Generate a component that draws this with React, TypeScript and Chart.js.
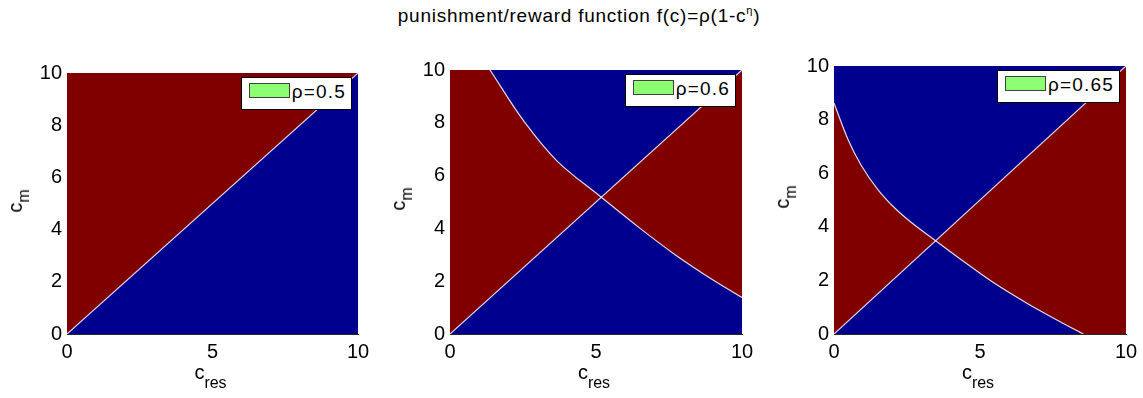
import React, { useEffect, useRef } from 'react';
import { Chart, registerables } from 'chart.js';

Chart.register(...registerables);

// ---------- data ----------
const TITLE_MAIN = 'punishment/reward function f(c)=ρ(1-c';
const TITLE_SUP = 'η';
const TITLE_END = ')';
const X_TITLE = 'c';
const X_TITLE_SUB = 'res';
const Y_TITLE = 'c';
const Y_TITLE_SUB = 'm';
const X_TICKS = [0, 5, 10];
const Y_TICKS = [0, 2, 4, 6, 8, 10];
const AXIS_MIN = 0;
const AXIS_MAX = 10;
const LEGEND_LABELS = ['ρ=0.5', 'ρ=0.6', 'ρ=0.65'];

// boundary c_m = c_res
const DIAG_X = [0, 10];
const DIAG_Y = [0, 10];

// second boundary curve (none inside the square for ρ=0.5)
const CURVE1_X: number[] = [];
const CURVE1_Y: number[] = [];
const CURVE2_X = [1.37, 2.53, 3.67, 5.18, 6.51, 7.65, 8.79, 10];
const CURVE2_Y = [10, 8.06, 6.55, 5.18, 4.0, 3.05, 2.2, 1.38];
const CURVE3_X = [0, 0.48, 0.94, 1.51, 2.08, 2.65, 3.48, 4.37, 5.51, 6.65, 7.79, 8.54];
const CURVE3_Y = [8.62, 7.26, 6.28, 5.38, 4.7, 4.16, 3.48, 2.76, 1.88, 1.12, 0.43, 0];

const CURVES_X = [CURVE1_X, CURVE2_X, CURVE3_X];
const CURVES_Y = [CURVE1_Y, CURVE2_Y, CURVE3_Y];

// ---------- style / layout ----------
const RED = '#800000';
const BLUE = '#00008f';
const EDGE = 'rgba(255,255,255,0.85)';
const SWATCH = '#8cff73';
const FONT = '"Liberation Sans", Arial, Helvetica, sans-serif';
const TENSION = 0.35;

const GEOM = [
  { left: 67, top: 71, right: 358, bottom: 334 },
  { left: 450, top: 68, right: 742, bottom: 334 },
  { left: 834, top: 64, right: 1126, bottom: 334 },
];
const PAD_L = 60;
const PAD_T = 15;
const PAD_R = 20;
const PAD_B = 45;

function pts(xs: number[], ys: number[]) {
  return xs.map((x, i) => ({ x, y: ys[i] }));
}

function Panel({ idx }: { idx: number }) {
  const ref = useRef<HTMLCanvasElement>(null);
  const g = GEOM[idx];
  const w = g.right - g.left + PAD_L + PAD_R;
  const h = g.bottom - g.top + PAD_T + PAD_B;

  useEffect(() => {
    if (!ref.current) return;
    const cx = CURVES_X[idx];
    const cy = CURVES_Y[idx];
    const datasets: any[] = [
      {
        data: pts([AXIS_MIN, AXIS_MAX], [AXIS_MAX, AXIS_MAX]),
        fill: 'start',
        backgroundColor: BLUE,
        borderWidth: 0,
        order: 5,
      },
      {
        data: pts(DIAG_X, DIAG_Y),
        fill: false,
        borderColor: EDGE,
        borderWidth: 1.2,
        order: 1,
      },
    ];
    const strips: { x: number[]; y: number[] }[] = [];
    if (!cx.length) {
      strips.push({ x: [AXIS_MIN, AXIS_MAX], y: [AXIS_MAX, AXIS_MAX] });
    } else {
      if (cy[0] >= AXIS_MAX && cx[0] > AXIS_MIN)
        strips.push({ x: [AXIS_MIN, cx[0]], y: [AXIS_MAX, AXIS_MAX] });
      const fx = cx.slice();
      const fy = cy.slice();
      const n = cx.length - 1;
      // area right of the curve's foot on the bottom edge joins the curve's own fill
      if (cy[n] <= AXIS_MIN && cx[n] < AXIS_MAX) {
        fx.push(AXIS_MAX);
        fy.push(AXIS_MIN);
      }
      // red between the curve and the diagonal
      datasets.push({
        data: pts(fx, fy),
        fill: 1,
        backgroundColor: RED,
        borderWidth: 0,
        tension: TENSION,
        order: 3,
      });
      // thin light edge along the curve
      datasets.push({
        data: pts(cx, cy),
        fill: false,
        borderColor: EDGE,
        borderWidth: 1.2,
        tension: TENSION,
        order: 2,
      });
    }
    strips.forEach((s) =>
      datasets.push({
        data: pts(s.x, s.y),
        fill: 1,
        backgroundColor: RED,
        borderWidth: 0,
        order: 4,
      })
    );

    const tickFont = { family: FONT, size: 20 };
    const chart = new Chart(ref.current, {
      type: 'line',
      data: { datasets },
      options: {
        responsive: false,
        animation: false,
        events: [],
        layout: { padding: { left: 0, top: PAD_T, right: PAD_R, bottom: 0 } },
        plugins: {
          legend: { display: false },
          tooltip: { enabled: false },
          title: { display: false },
        },
        elements: { point: { radius: 0, hoverRadius: 0 }, line: { tension: 0 } },
        scales: {
          x: {
            type: 'linear',
            min: AXIS_MIN,
            max: AXIS_MAX,
            afterBuildTicks: (s: any) => {
              s.ticks = X_TICKS.map((v) => ({ value: v }));
            },
            afterFit: (s: any) => {
              s.height = PAD_B;
            },
            grid: { display: false, drawTicks: false },
            border: { display: true, color: '#262626', width: 1 },
            ticks: { font: tickFont, color: '#000', padding: 6, maxRotation: 0, autoSkip: false },
          },
          y: {
            type: 'linear',
            min: AXIS_MIN,
            max: AXIS_MAX,
            afterBuildTicks: (s: any) => {
              s.ticks = Y_TICKS.map((v) => ({ value: v }));
            },
            afterFit: (s: any) => {
              s.width = PAD_L;
            },
            grid: { display: false, drawTicks: false },
            border: { display: false },
            ticks: { font: tickFont, color: '#000', padding: 5, autoSkip: false },
          },
        },
      } as any,
    });
    return () => chart.destroy();
  }, [idx]);

  const midX = (g.left + g.right) / 2;
  const midY = (g.top + g.bottom) / 2;
  return (
    <>
      <canvas
        ref={ref}
        width={w}
        height={h}
        style={{ position: 'absolute', left: g.left - PAD_L, top: g.top - PAD_T, width: w, height: h }}
      />
      {/* legend */}
      <div
        style={{
          position: 'absolute',
          right: 1143 - (g.right - 6),
          top: g.top + 6,
          height: 33,
          boxSizing: 'border-box',
          border: '1px solid #000',
          background: '#fff',
          paddingLeft: 50,
          paddingRight: 5,
          fontFamily: FONT,
          fontSize: 19,
          lineHeight: '19px',
          letterSpacing: '1.2px',
          whiteSpace: 'nowrap',
        }}
      >
        <div
          style={{
            position: 'absolute',
            left: 7,
            top: 5,
            width: 41,
            height: 15,
            boxSizing: 'border-box',
            border: '1px solid #404040',
            background: SWATCH,
          }}
        />
        <div style={{ paddingTop: 4 }}>{LEGEND_LABELS[idx]}</div>
      </div>
      {/* x title */}
      <div
        style={{
          position: 'absolute',
          left: midX - 2,
          top: 362,
          transform: 'translateX(-50%)',
          fontFamily: FONT,
          fontSize: 20,
          lineHeight: '20px',
          whiteSpace: 'nowrap',
        }}
      >
        {X_TITLE}
        <span style={{ fontSize: 16, position: 'relative', top: 9 }}>{X_TITLE_SUB}</span>
      </div>
      {/* y title */}
      <div
        style={{
          position: 'absolute',
          left: g.left - 62,
          top: midY - 2,
          transformOrigin: '0 0',
          transform: 'rotate(-90deg) translateX(-50%)',
          fontFamily: FONT,
          fontSize: 20,
          lineHeight: '20px',
          whiteSpace: 'nowrap',
        }}
      >
        {Y_TITLE}
        <span style={{ fontSize: 16, position: 'relative', top: 7 }}>{Y_TITLE_SUB}</span>
      </div>
    </>
  );
}

export default function App() {
  return (
    <div
      style={{
        position: 'fixed',
        left: 0,
        top: 0,
        width: 1143,
        height: 398,
        background: '#fff',
        overflow: 'hidden',
      }}
    >
      <div
        style={{
          position: 'absolute',
          left: 579,
          top: 6,
          transform: 'translateX(-50%)',
          fontFamily: FONT,
          fontSize: 19,
          lineHeight: '19px',
          letterSpacing: '0.75px',
          whiteSpace: 'nowrap',
          color: '#000',
        }}
      >
        {TITLE_MAIN}
        <span style={{ fontSize: 11, position: 'relative', top: -8 }}>{TITLE_SUP}</span>
        {TITLE_END}
      </div>
      <Panel idx={0} />
      <Panel idx={1} />
      <Panel idx={2} />
    </div>
  );
}
